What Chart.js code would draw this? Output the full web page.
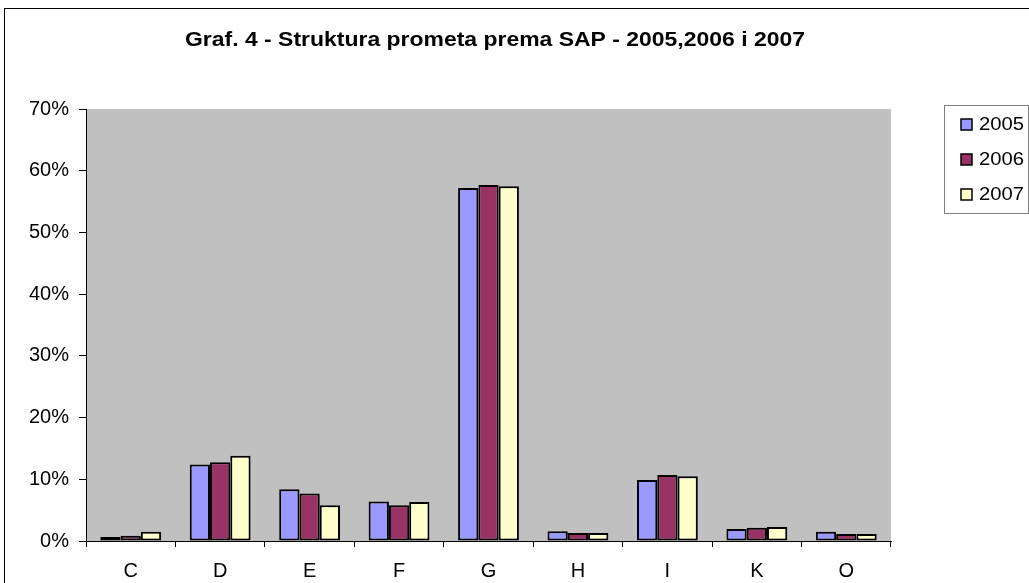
<!DOCTYPE html>
<html>
<head>
<meta charset="utf-8">
<script src="https://cdn.jsdelivr.net/npm/chart.js@4"></script>
<style>
  body { margin: 0; background: #fff; }
  #wrap { position: relative; width: 1029px; height: 583px; }
</style>
</head>
<body>
<div id="wrap"><canvas id="myChart" width="1029" height="583"></canvas></div>
<script>
// chart values (percent)
const categories = ['C', 'D', 'E', 'F', 'G', 'H', 'I', 'K', 'O'];
const years = ['2005', '2006', '2007'];
const values2005 = [0.65, 12.4, 8.4, 6.4, 57.2, 1.6, 9.9, 1.95, 1.5];
const values2006 = [0.85, 12.75, 7.7, 5.8, 57.7, 1.3, 10.7, 2.15, 1.15];
const values2007 = [1.5, 13.8, 5.8, 6.3, 57.5, 1.3, 10.5, 2.25, 1.15];
const yTicks = [0, 10, 20, 30, 40, 50, 60, 70];
const titleText = 'Graf. 4 - Struktura prometa prema SAP - 2005,2006 i 2007';

const colors = ['#9999FF', '#993366', '#FFFFCC'];
const font = '"Liberation Sans", Arial, sans-serif';

// text drawn a little wider than the font gives, like the exported original
function wideText(c, txt, x, y, width) {
  const w = c.measureText(txt).width;
  c.save();
  c.translate(x, y);
  c.scale(width / w, 1);
  c.fillText(txt, 0, 0);
  c.restore();
}

// grey plot background, outer frame, title and boxed legend
const decor = {
  id: 'decor',
  beforeDraw(chart) {
    const c = chart.ctx, a = chart.chartArea;
    c.save();
    c.fillStyle = '#fff';
    c.fillRect(0, 0, chart.width, chart.height);
    c.fillStyle = '#C0C0C0';
    c.fillRect(a.left, a.top, a.right - a.left, a.bottom - a.top);
    c.strokeStyle = '#000';
    c.lineWidth = 1;
    c.strokeRect(4.5, 8.5, 1200, 1000);
    c.restore();
  },
  afterDraw(chart) {
    const c = chart.ctx;
    c.save();
    c.fillStyle = '#000';
    c.font = 'bold 20px ' + font;
    c.textAlign = 'left';
    c.textBaseline = 'middle';
    wideText(c, titleText, 185, 40, 620);

    // legend
    c.strokeStyle = '#808080';
    c.lineWidth = 1;
    c.strokeRect(944.5, 105.5, 84, 108);
    c.font = '19px ' + font;
    chart.data.datasets.forEach((ds, i) => {
      const y = 125 + i * 35;
      c.fillStyle = ds.backgroundColor;
      c.fillRect(961, y - 6, 11, 11);
      c.strokeStyle = '#000';
      c.lineWidth = 1.5;
      c.strokeRect(961, y - 6, 11, 11);
      c.fillStyle = '#000';
      wideText(c, ds.label, 979, y, 45);
    });
    c.restore();
  }
};

const ctx = document.getElementById('myChart').getContext('2d');
const chart = new Chart(ctx, {
  type: 'bar',
  data: {
    labels: categories,
    datasets: [
      { label: years[0], data: values2005, backgroundColor: colors[0] },
      { label: years[1], data: values2006, backgroundColor: colors[1] },
      { label: years[2], data: values2007, backgroundColor: colors[2] }
    ].map(d => Object.assign(d, {
      borderColor: '#000',
      borderWidth: 2,
      borderSkipped: false,
      categoryPercentage: 0.68,
      barPercentage: 1.0
    }))
  },
  options: {
    responsive: false,
    animation: false,
    layout: { padding: { left: 0, top: 109, right: 138, bottom: 0 } },
    plugins: {
      legend: { display: false },
      title: { display: false },
      tooltip: { enabled: false }
    },
    scales: {
      x: {
        afterFit: s => { s.height = 42; },
        grid: { offset: true, drawOnChartArea: false, drawTicks: true, tickLength: 6, color: '#000' },
        border: { color: '#000', width: 1 },
        ticks: { color: '#000', font: { family: font, size: 20 }, padding: 12 }
      },
      y: {
        min: 0,
        max: 70,
        afterFit: s => { s.width = 86; },
        afterBuildTicks: s => { s.ticks = yTicks.map(v => ({ value: v })); },
        grid: { drawOnChartArea: false, drawTicks: true, tickLength: 7, color: '#000' },
        border: { color: '#000', width: 1 },
        ticks: { color: '#000', font: { family: font, size: 20 }, padding: 10, callback: v => v + '%' }
      }
    }
  },
  plugins: [decor]
});
</script>
</body>
</html>
